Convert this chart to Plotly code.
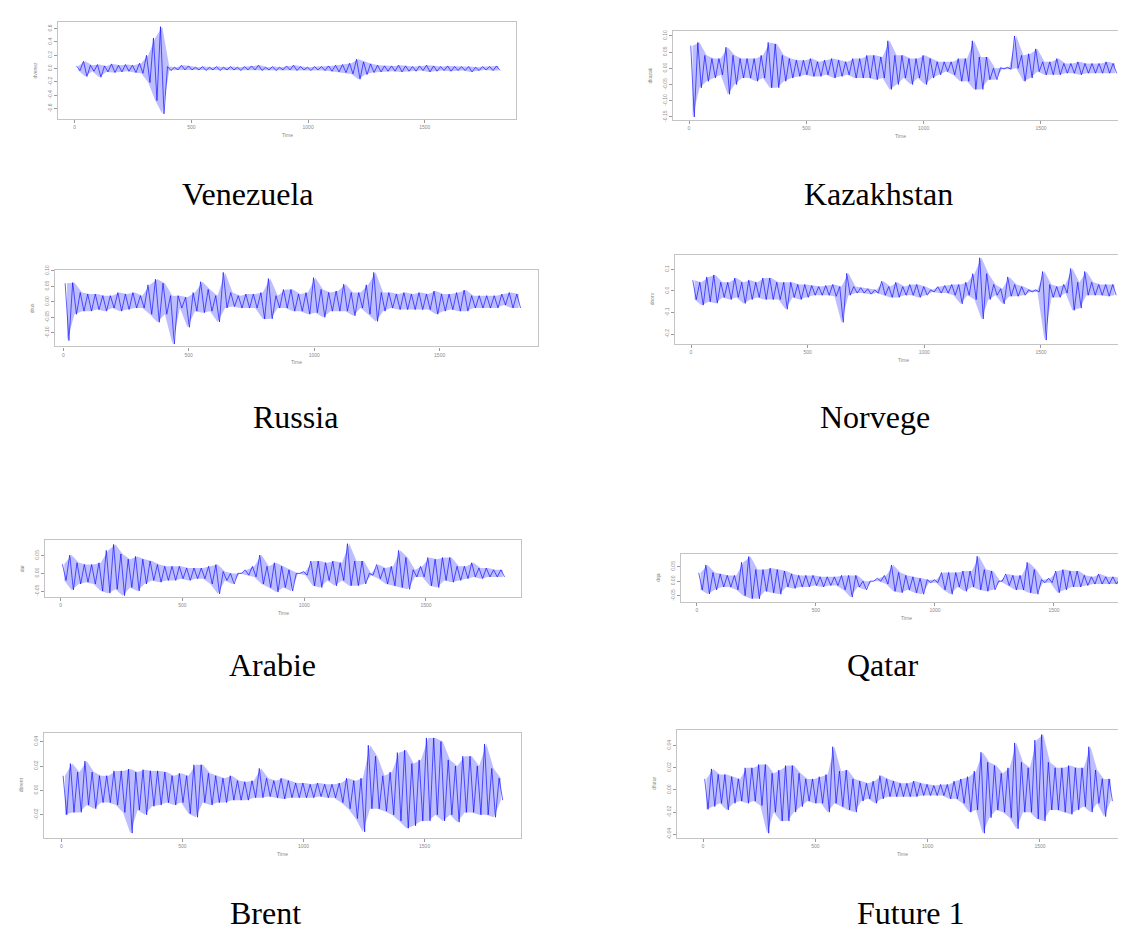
import plotly.graph_objects as go

W, H = 1126, 933
BIN = 30  # time units per bin (each bin: high / low value)

captions = ["Venezuela", "Kazakhstan", "Russia", "Norvege", "Arabie", "Qatar", "Brent", "Future 1"]
x_ticks = [0, 500, 1000, 1500]
x_ticktext = ["0", "500", "1000", "1500"]

ven_hi = [0.04, 0.11, 0.05, 0.06, 0.04, 0.07, 0.05, 0.06, 0.05, 0.08, 0.20, 0.46, 0.63, 0.03, 0.02, 0.05, 0.04, 0.02, 0.03, 0.02,
          0.03, 0.02, 0.03, 0.02, 0.03, 0.04, 0.05, 0.02, 0.03, 0.02, 0.04, 0.05, 0.03, 0.02, 0.03, 0.03, 0.04, 0.05, 0.06, 0.08,
          0.14, 0.10, 0.07, 0.05, 0.04, 0.04, 0.05, 0.04, 0.03, 0.04, 0.05, 0.04, 0.03, 0.04, 0.03, 0.03, 0.03, 0.02, 0.03, 0.03, 0.04]
ven_lo = [-0.03, -0.12, -0.04, -0.13, -0.05, -0.06, -0.05, -0.04, -0.06, -0.07, -0.21, -0.48, -0.68, -0.03, -0.02, -0.02, -0.02, -0.02, -0.03, -0.02,
          -0.03, -0.02, -0.02, -0.03, -0.02, -0.02, -0.03, -0.02, -0.03, -0.02, -0.02, -0.03, -0.02, -0.03, -0.02, -0.03, -0.04, -0.05, -0.06, -0.08,
          -0.16, -0.09, -0.06, -0.05, -0.04, -0.04, -0.05, -0.04, -0.04, -0.03, -0.05, -0.04, -0.03, -0.04, -0.03, -0.03, -0.05, -0.03, -0.02, -0.03, -0.03]

kaz_hi = [0.07, 0.08, 0.04, 0.03, 0.03, 0.065, 0.04, 0.03, 0.03, 0.03, 0.04, 0.08, 0.075, 0.04, 0.03, 0.025, 0.025, 0.03, 0.02, 0.025,
          0.03, 0.025, 0.02, 0.03, 0.03, 0.04, 0.04, 0.035, 0.085, 0.04, 0.04, 0.03, 0.03, 0.04, 0.03, 0.02, 0.02, 0.02, 0.03, 0.03,
          0.085, 0.035, 0.035, 0.0, 0.002, 0.003, 0.10, 0.04, 0.045, 0.06, 0.02, 0.02, 0.03, 0.015, 0.015, 0.02, 0.015, 0.015, 0.015, 0.02, 0.015]
kaz_lo = [-0.15, -0.06, -0.04, -0.03, -0.02, -0.08, -0.05, -0.03, -0.03, -0.04, -0.03, -0.06, -0.06, -0.04, -0.03, -0.025, -0.02, -0.025, -0.025, -0.02,
          -0.03, -0.025, -0.02, -0.03, -0.03, -0.03, -0.035, -0.03, -0.065, -0.05, -0.03, -0.05, -0.03, -0.05, -0.03, -0.02, -0.01, -0.02, -0.04, -0.04,
          -0.065, -0.065, -0.035, -0.035, -0.002, -0.003, 0.0, -0.04, -0.03, -0.01, -0.02, -0.02, -0.02, -0.015, -0.015, -0.02, -0.015, -0.015, -0.015, -0.015, -0.015]

rus_hi = [0.06, 0.062, 0.03, 0.025, 0.025, 0.02, 0.02, 0.03, 0.025, 0.03, 0.02, 0.055, 0.073, 0.06, 0.02, 0.02, 0.015, 0.03, 0.065, 0.04,
          0.02, 0.095, 0.03, 0.02, 0.025, 0.025, 0.03, 0.075, 0.02, 0.04, 0.04, 0.025, 0.03, 0.078, 0.04, 0.03, 0.035, 0.057, 0.03, 0.03,
          0.055, 0.095, 0.03, 0.03, 0.025, 0.03, 0.025, 0.03, 0.025, 0.035, 0.025, 0.025, 0.03, 0.038, 0.02, 0.02, 0.02, 0.02, 0.025, 0.03, 0.025]
rus_lo = [-0.125, -0.04, -0.03, -0.03, -0.025, -0.03, -0.02, -0.03, -0.025, -0.02, -0.02, -0.04, -0.066, -0.04, -0.136, -0.02, -0.082, -0.03, -0.035, -0.03,
          -0.065, -0.02, -0.015, -0.02, -0.02, -0.02, -0.055, -0.055, -0.02, -0.02, -0.03, -0.03, -0.04, -0.035, -0.05, -0.03, -0.03, -0.03, -0.045, -0.02,
          -0.04, -0.063, -0.03, -0.02, -0.025, -0.025, -0.025, -0.025, -0.025, -0.04, -0.03, -0.025, -0.03, -0.03, -0.02, -0.02, -0.02, -0.02, -0.01, -0.02, -0.02]

nor_hi = [0.05, 0.04, 0.065, 0.074, 0.04, 0.04, 0.06, 0.04, 0.05, 0.04, 0.06, 0.06, 0.04, 0.04, 0.04, 0.03, 0.03, 0.025, 0.02, 0.025,
          0.03, 0.02, 0.082, 0.02, 0.015, 0.01, 0.005, 0.045, 0.02, 0.04, 0.02, 0.03, 0.03, 0.02, 0.005, 0.02, 0.025, 0.03, 0.03, 0.04,
          0.08, 0.154, 0.08, 0.03, 0.01, 0.065, 0.03, 0.02, 0.005, 0.005, 0.09, 0.03, 0.02, 0.03, 0.104, 0.04, 0.09, 0.04, 0.03, 0.03, 0.03]
nor_lo = [-0.04, -0.066, -0.05, -0.057, -0.03, -0.04, -0.03, -0.058, -0.04, -0.03, -0.04, -0.04, -0.04, -0.085, -0.03, -0.04, -0.03, -0.02, -0.02, -0.02,
          -0.025, -0.146, -0.02, -0.01, -0.01, -0.015, -0.01, -0.02, -0.03, -0.03, -0.02, -0.02, -0.03, -0.02, -0.005, -0.01, -0.01, -0.02, -0.06, -0.02,
          -0.04, -0.13, -0.04, -0.02, -0.06, -0.025, -0.025, -0.02, -0.005, -0.005, -0.228, -0.03, -0.03, -0.01, -0.09, -0.08, -0.02, -0.02, -0.02, -0.025, -0.02]

ara_hi = [0.026, 0.052, 0.03, 0.025, 0.025, 0.03, 0.065, 0.082, 0.055, 0.04, 0.048, 0.04, 0.035, 0.025, 0.02, 0.02, 0.02, 0.015, 0.015, 0.015,
          0.02, 0.025, 0.005, 0.0, 0.0, 0.01, 0.02, 0.052, 0.02, 0.03, 0.02, 0.01, 0.0, 0.005, 0.035, 0.035, 0.03, 0.035, 0.03, 0.084,
          0.035, 0.035, 0.0, 0.025, 0.015, 0.02, 0.065, 0.045, 0.01, 0.02, 0.045, 0.04, 0.045, 0.045, 0.02, 0.02, 0.03, 0.015, 0.015, 0.01, 0.01]
ara_lo = [-0.02, -0.047, -0.03, -0.025, -0.03, -0.05, -0.056, -0.045, -0.063, -0.04, -0.05, -0.03, -0.02, -0.025, -0.02, -0.02, -0.015, -0.02, -0.015, -0.015,
          -0.03, -0.058, -0.02, -0.03, 0.0, -0.005, -0.01, -0.03, -0.04, -0.053, -0.04, -0.05, 0.0, -0.005, -0.035, -0.04, -0.02, -0.035, -0.02, -0.035,
          -0.035, -0.03, -0.005, -0.015, -0.03, -0.035, -0.04, -0.045, -0.01, -0.01, -0.035, -0.04, -0.02, -0.025, -0.02, -0.015, -0.01, -0.015, -0.01, -0.01, -0.01]

qat_hi = [0.029, 0.056, 0.03, 0.025, 0.02, 0.02, 0.065, 0.085, 0.04, 0.04, 0.045, 0.04, 0.035, 0.025, 0.02, 0.02, 0.02, 0.015, 0.015, 0.015,
          0.02, 0.02, 0.02, 0.0, 0.0, 0.01, 0.02, 0.056, 0.03, 0.02, 0.015, 0.01, 0.005, 0.005, 0.03, 0.03, 0.03, 0.035, 0.035, 0.086,
          0.04, 0.035, 0.0, 0.025, 0.02, 0.02, 0.065, 0.04, 0.005, 0.01, 0.035, 0.04, 0.035, 0.035, 0.02, 0.015, 0.025, 0.015, 0.015, 0.01, 0.01]
qat_lo = [-0.03, -0.044, -0.03, -0.02, -0.02, -0.03, -0.05, -0.06, -0.061, -0.035, -0.04, -0.045, -0.02, -0.025, -0.02, -0.02, -0.015, -0.02, -0.015, -0.015,
          -0.03, -0.055, -0.02, -0.03, 0.0, 0.0, -0.01, -0.035, -0.04, -0.03, -0.04, -0.045, -0.005, -0.005, -0.03, -0.045, -0.02, -0.035, -0.02, -0.03,
          -0.035, -0.03, 0.0, -0.015, -0.03, -0.03, -0.04, -0.045, -0.005, -0.005, -0.04, -0.03, -0.02, -0.02, -0.015, -0.01, -0.01, -0.01, -0.01, -0.01, -0.01]

bre_hi = [0.012, 0.022, 0.015, 0.024, 0.015, 0.012, 0.012, 0.016, 0.016, 0.0175, 0.015, 0.017, 0.016, 0.016, 0.015, 0.012, 0.014, 0.012, 0.021, 0.021,
          0.014, 0.012, 0.01, 0.012, 0.008, 0.007, 0.008, 0.018, 0.01, 0.008, 0.01, 0.008, 0.006, 0.006, 0.005, 0.006, 0.005, 0.005, 0.006, 0.01,
          0.008, 0.01, 0.037, 0.028, 0.012, 0.015, 0.031, 0.033, 0.022, 0.025, 0.043, 0.043, 0.04, 0.025, 0.02, 0.028, 0.028, 0.02, 0.038, 0.018, 0.01]
bre_lo = [-0.02, -0.018, -0.018, -0.012, -0.015, -0.01, -0.01, -0.012, -0.018, -0.035, -0.016, -0.02, -0.013, -0.012, -0.01, -0.012, -0.01, -0.019, -0.022, -0.01,
          -0.012, -0.01, -0.01, -0.008, -0.008, -0.008, -0.006, -0.006, -0.005, -0.006, -0.007, -0.006, -0.006, -0.006, -0.006, -0.005, -0.006, -0.006, -0.01, -0.015,
          -0.023, -0.034, -0.015, -0.015, -0.017, -0.02, -0.025, -0.031, -0.029, -0.025, -0.025, -0.02, -0.025, -0.02, -0.026, -0.018, -0.018, -0.02, -0.02, -0.022, -0.008]

fut_hi = [0.01, 0.019, 0.014, 0.014, 0.012, 0.01, 0.02, 0.02, 0.023, 0.023, 0.015, 0.018, 0.022, 0.022, 0.015, 0.01, 0.01, 0.012, 0.014, 0.039,
          0.017, 0.018, 0.01, 0.008, 0.006, 0.008, 0.013, 0.01, 0.008, 0.006, 0.006, 0.008, 0.006, 0.005, 0.004, 0.005, 0.005, 0.008, 0.01, 0.012,
          0.017, 0.034, 0.025, 0.022, 0.015, 0.02, 0.0425, 0.025, 0.02, 0.045, 0.05, 0.025, 0.02, 0.02, 0.022, 0.02, 0.02, 0.039, 0.018, 0.01, 0.01]
fut_lo = [-0.0175, -0.015, -0.012, -0.018, -0.012, -0.01, -0.012, -0.01, -0.014, -0.039, -0.02, -0.028, -0.028, -0.02, -0.015, -0.01, -0.012, -0.012, -0.02, -0.012,
          -0.015, -0.018, -0.02, -0.01, -0.008, -0.012, -0.008, -0.006, -0.006, -0.006, -0.006, -0.006, -0.005, -0.005, -0.005, -0.005, -0.008, -0.008, -0.012, -0.02,
          -0.018, -0.039, -0.025, -0.018, -0.02, -0.025, -0.035, -0.02, -0.02, -0.026, -0.028, -0.018, -0.018, -0.02, -0.022, -0.018, -0.015, -0.02, -0.012, -0.024, -0.01]

ven_yt = [-0.6, -0.4, -0.2, 0.0, 0.2, 0.4, 0.6]
kaz_yt = [-0.15, -0.10, -0.05, 0.0, 0.05, 0.10]
rus_yt = [-0.10, -0.05, 0.0, 0.05, 0.10]
nor_yt = [-0.2, -0.1, 0.0, 0.1]
ara_yt = [-0.05, 0.0, 0.05]
qat_yt = [-0.05, 0.0, 0.05]
bre_yt = [-0.02, 0.0, 0.02, 0.04]
fut_yt = [-0.04, -0.02, 0.0, 0.02, 0.04]

ylabels = ["dvenez", "dkazak", "drus", "dnorv", "dar", "dqa", "dbrent", "dfutur"]

series = [(ven_hi, ven_lo, ven_yt, 1), (kaz_hi, kaz_lo, kaz_yt, 2), (rus_hi, rus_lo, rus_yt, 2), (nor_hi, nor_lo, nor_yt, 1),
          (ara_hi, ara_lo, ara_yt, 2), (qat_hi, qat_lo, qat_yt, 2), (bre_hi, bre_lo, bre_yt, 2), (fut_hi, fut_lo, fut_yt, 2)]

# layout: plot box in pixels (left, right, top, bottom), axis ranges, caption centre
layout_spec = [
    dict(box=(50, 508, 9, 107), xr=(-71.6, 1890.7), yr=(-0.761, 0.701), cap=(240, 182)),
    dict(box=(665, 1120, 18, 108), xr=(-68.2, 1871), yr=(-0.160, 0.1156), cap=(870, 182)),
    dict(box=(47, 530, 259, 336), xr=(-33, 1892), yr=(-0.144, 0.1026), cap=(287, 407)),
    dict(box=(667, 1123, 244, 333), xr=(-68.6, 1886), yr=(-0.244, 0.166), cap=(867, 407)),
    dict(box=(37, 513, 531, 588), xr=(-64, 1890), yr=(-0.0657, 0.0944), cap=(264, 657)),
    dict(box=(673, 1124, 545, 593), xr=(-67, 1828), yr=(-0.0703, 0.0941), cap=(874, 657)),
    dict(box=(36, 513, 725, 831), xr=(-71.4, 1898), yr=(-0.0388, 0.0474), cap=(257, 907)),
    dict(box=(669, 1120, 722, 831), xr=(-115.8, 1892), yr=(-0.0431, 0.0545), cap=(903, 907)),
]

GRAY = "#8a8a8a"
fig = go.Figure()
annotations = []
for i, ((hi, lo, yt, dec), spec, cap, ylab) in enumerate(zip(series, layout_spec, captions, ylabels), start=1):
    ax = "" if i == 1 else str(i)
    tc = [b * BIN + BIN / 2 for b in range(len(hi))]
    # envelope band (light blue) between per-bin high and low
    fig.add_trace(go.Scatter(x=tc, y=hi, mode="lines", xaxis="x" + ax, yaxis="y" + ax,
                             line=dict(width=0, color="rgba(0,0,255,0)"), showlegend=False, hoverinfo="skip"))
    fig.add_trace(go.Scatter(x=tc, y=lo, mode="lines", xaxis="x" + ax, yaxis="y" + ax, fill="tonexty",
                             fillcolor="rgba(70,70,255,0.35)",
                             line=dict(width=0, color="rgba(0,0,255,0)"), showlegend=False, hoverinfo="skip"))
    # zig-zag trace through highs and lows
    xs, ys = [], []
    for b, (h, l) in enumerate(zip(hi, lo)):
        xs += [b * BIN + BIN * 0.25, b * BIN + BIN * 0.75]
        ys += [h, l]
    fig.add_trace(go.Scatter(x=xs, y=ys, mode="lines", xaxis="x" + ax, yaxis="y" + ax,
                             line=dict(color="rgba(0,0,255,0.9)", width=0.7),
                             showlegend=False, hoverinfo="skip"))
    L, R, T, B = spec["box"]
    common = dict(showline=True, mirror=True, linecolor="#c4c4c4", linewidth=1.2,
                  ticks="outside", ticklen=3, tickwidth=0.8, tickcolor="#9a9a9a",
                  tickfont=dict(size=5, color=GRAY, family="Liberation Sans"),
                  showgrid=False, zeroline=False)
    fig.update_layout(**{
        "xaxis" + ax: dict(domain=[L / W, R / W], range=list(spec["xr"]), anchor="y" + ax,
                           tickmode="array", tickvals=x_ticks, ticktext=x_ticktext, **common),
        "yaxis" + ax: dict(domain=[1 - B / H, 1 - T / H], range=list(spec["yr"]), anchor="x" + ax,
                           tickmode="array", tickvals=yt, ticktext=[f"{v:.{dec}f}" for v in yt],
                           tickangle=-90, **common),
    })
    annotations.append(dict(text="Time", xref=f"x{ax} domain", yref=f"y{ax} domain", x=0.5, y=0,
                            yanchor="top", yshift=-11, showarrow=False,
                            font=dict(size=5, color=GRAY, family="Liberation Sans")))
    annotations.append(dict(text=ylab, xref=f"x{ax} domain", yref=f"y{ax} domain", x=0, y=0.5,
                            xanchor="right", xshift=-18, textangle=-90, showarrow=False,
                            font=dict(size=5, color=GRAY, family="Liberation Sans")))
    cx, cy = spec["cap"]
    annotations.append(dict(text=cap, xref="paper", yref="paper", x=cx / W, y=1 - cy / H,
                            xanchor="center", yanchor="middle", showarrow=False,
                            font=dict(size=32, color="black", family="Liberation Serif")))

fig.update_layout(width=W, height=H, autosize=False, margin=dict(l=0, r=0, t=0, b=0),
                  paper_bgcolor="white", plot_bgcolor="white", annotations=annotations)
fig.write_html("out.html")
